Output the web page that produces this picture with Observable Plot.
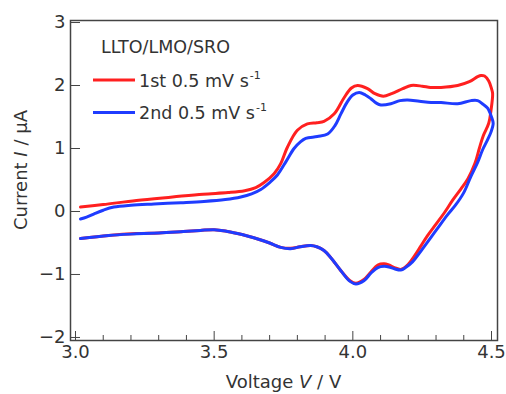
<!DOCTYPE html>
<html><head><meta charset="utf-8">
<script src="https://cdn.jsdelivr.net/npm/d3@7"></script>
<script src="https://cdn.jsdelivr.net/npm/@observablehq/plot@0.6"></script>
<style>body{margin:0;background:#fff}#chart{width:506px;height:394px}</style>
</head><body><div id="chart"></div>
<script>
// 1st scan (red): voltage (V) and current (µA), ordered along the sweep
const run1Voltage = [3.018,3.10,3.22,3.35,3.46,3.55,3.61,3.65,3.68,3.716,3.74,3.764,3.80,3.836,3.87,3.896,3.933,3.969,3.995,4.017,4.053,4.08,4.11,4.14,4.18,4.21,4.25,4.28,4.318,4.378,4.42,4.45,4.462,4.475,4.49,4.50,4.504,4.498,4.49,4.47,4.456,4.44,4.415,4.39,4.36,4.33,4.30,4.27,4.245,4.22,4.195,4.173,4.15,4.13,4.113,4.09,4.065,4.04,4.011,3.99,3.957,3.92,3.896,3.87,3.848,3.81,3.776,3.74,3.70,3.66,3.62,3.584,3.54,3.50,3.45,3.38,3.30,3.22,3.12,3.018];
const run1Current = [0.07,0.11,0.175,0.23,0.275,0.30,0.33,0.38,0.46,0.60,0.76,1.02,1.29,1.39,1.41,1.43,1.55,1.81,1.96,2.00,1.95,1.87,1.83,1.87,1.95,2.00,1.99,1.97,1.97,2.00,2.06,2.14,2.16,2.15,2.07,1.95,1.87,1.60,1.40,1.20,1.00,0.76,0.52,0.36,0.18,-0.02,-0.20,-0.38,-0.55,-0.72,-0.86,-0.92,-0.89,-0.85,-0.83,-0.85,-0.96,-1.08,-1.14,-1.10,-0.94,-0.73,-0.62,-0.56,-0.54,-0.56,-0.585,-0.57,-0.50,-0.44,-0.39,-0.35,-0.31,-0.29,-0.30,-0.32,-0.34,-0.35,-0.38,-0.43];
// 2nd scan (blue)
const run2Voltage = [3.018,3.04,3.066,3.10,3.138,3.20,3.283,3.38,3.463,3.54,3.596,3.635,3.668,3.70,3.728,3.76,3.788,3.81,3.83,3.872,3.909,3.935,3.957,3.98,4.00,4.023,4.045,4.065,4.085,4.101,4.137,4.17,4.197,4.24,4.282,4.318,4.378,4.426,4.45,4.47,4.486,4.50,4.506,4.498,4.486,4.468,4.45,4.425,4.40,4.37,4.342,4.30,4.25,4.215,4.19,4.173,4.15,4.13,4.113,4.09,4.065,4.04,4.011,3.99,3.957,3.92,3.896,3.87,3.848,3.81,3.776,3.74,3.70,3.66,3.62,3.584,3.54,3.50,3.45,3.38,3.30,3.22,3.12,3.018];
const run2Current = [-0.12,-0.09,-0.04,0.02,0.07,0.10,0.12,0.14,0.16,0.19,0.23,0.28,0.35,0.46,0.58,0.80,1.00,1.10,1.16,1.19,1.23,1.36,1.55,1.74,1.85,1.89,1.85,1.79,1.72,1.69,1.71,1.76,1.77,1.75,1.73,1.73,1.71,1.76,1.76,1.70,1.64,1.50,1.40,1.26,1.14,0.98,0.78,0.55,0.30,0.10,-0.05,-0.30,-0.60,-0.80,-0.89,-0.93,-0.91,-0.88,-0.87,-0.89,-0.98,-1.10,-1.15,-1.11,-0.94,-0.73,-0.62,-0.56,-0.54,-0.56,-0.59,-0.57,-0.50,-0.44,-0.39,-0.35,-0.31,-0.29,-0.30,-0.32,-0.34,-0.355,-0.38,-0.43];

const xMajorTicks = [3.0, 3.5, 4.0, 4.5];
const xMinorTicks = [3.1,3.2,3.3,3.4,3.6,3.7,3.8,3.9,4.1,4.2,4.3,4.4];
const yTicks = [-2, -1, 0, 1, 2, 3];
const seriesNames = ["1st 0.5 mV s", "2nd 0.5 mV s"];
const seriesColors = ["#ff2020", "#1f3cff"];
const legendTitle = "LLTO/LMO/SRO";

const run1 = run1Voltage.map((v, k) => ({v, i: run1Current[k]}));
const run2 = run2Voltage.map((v, k) => ({v, i: run2Current[k]}));

const ML = 70, MR = 9, MT = 20, MB = 54, W = 506, H = 394;
const plot = Plot.plot({
  width: W, height: H,
  marginLeft: ML, marginRight: MR, marginTop: MT, marginBottom: MB,
  style: {fontFamily: "DejaVu Sans", fontSize: "18px", color: "#333", background: "#fff"},
  x: {domain: [2.982, 4.5216]},
  y: {domain: [-2.048, 3.032]},
  marks: [
    Plot.axisX(xMinorTicks, {tickSize: -5, tickFormat: () => "", label: null, stroke: "#444"}),
    Plot.axisX(xMajorTicks, {tickSize: -9, tickPadding: 14, tickFormat: d3.format(".1f"), label: null, stroke: "#444", fill: "#333"}),
    Plot.axisY(yTicks, {tickSize: -10, tickPadding: 15, tickFormat: d3.format("d"), label: null, stroke: "#444", fill: "#333"}),
    Plot.line(run1, {x: "v", y: "i", stroke: seriesColors[0], strokeWidth: 3, curve: "catmull-rom"}),
    Plot.line(run2, {x: "v", y: "i", stroke: seriesColors[1], strokeWidth: 3, curve: "catmull-rom"}),
    Plot.frame({stroke: "#444", strokeWidth: 1.5})
  ]
});
document.getElementById("chart").appendChild(plot);

const svg = d3.select(plot);
// axis titles
const xt = svg.append("text").attr("x", (ML + W - MR) / 2).attr("y", 388)
  .attr("text-anchor", "middle").attr("fill", "#333").style("font-size", "18px").style("font-family", "DejaVu Sans");
xt.append("tspan").text("Voltage ");
xt.append("tspan").attr("font-style", "italic").text("V");
xt.append("tspan").text(" / V");
const yt = svg.append("text").attr("transform", "translate(27,170) rotate(-90)")
  .attr("text-anchor", "middle").attr("fill", "#333").style("font-size", "18px").style("font-family", "DejaVu Sans");
yt.append("tspan").text("Current ");
yt.append("tspan").attr("font-style", "italic").text("I");
yt.append("tspan").text(" / \u03bcA");

// legend
const lg = svg.append("g").style("font-family", "DejaVu Sans").attr("fill", "#333").attr("text-anchor", "start");
lg.append("text").attr("x", 101).attr("y", 53).style("font-size", "17.5px").text(legendTitle);
seriesNames.forEach((name, k) => {
  const y = 80 + 32.5 * k;
  lg.append("line").attr("x1", 93).attr("x2", 135).attr("y1", y).attr("y2", y)
    .attr("stroke", seriesColors[k]).attr("stroke-width", 3);
  const t = lg.append("text").attr("x", 139).attr("y", y + 6.5).style("font-size", "17.5px");
  t.append("tspan").text(name);
  t.append("tspan").attr("dy", -8).attr("dx", 1).style("font-size", "11px").text("-1");
});
</script></body></html>
